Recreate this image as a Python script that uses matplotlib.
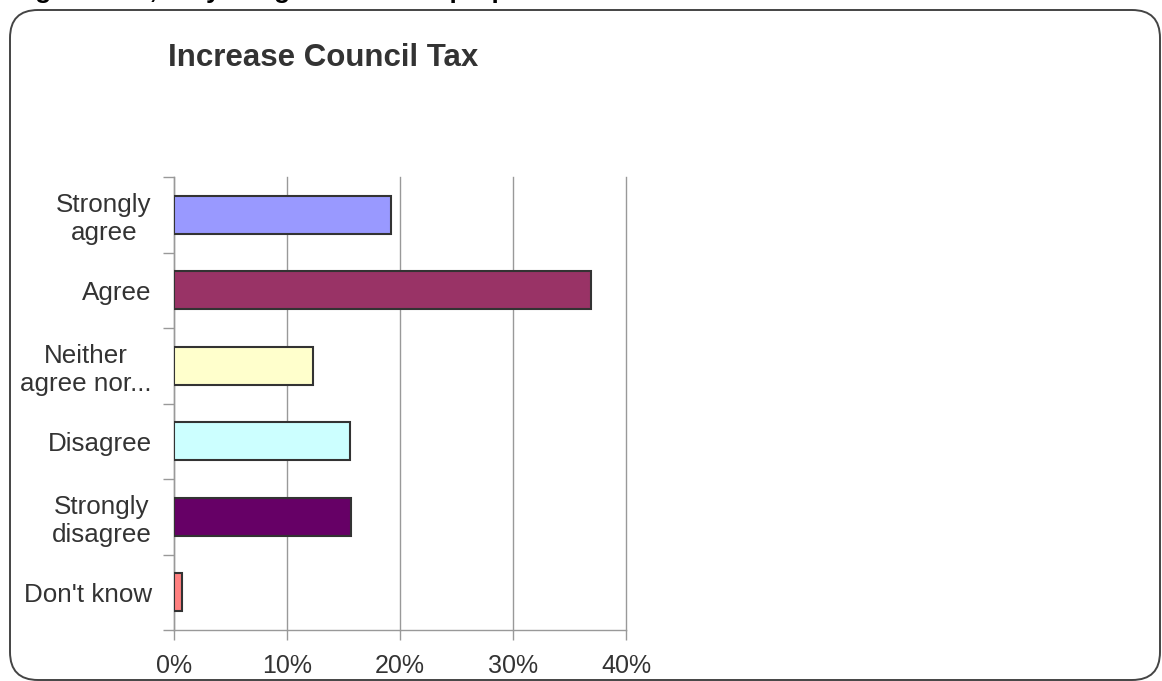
import numpy as np
import matplotlib
matplotlib.use("Agg")
import matplotlib.pyplot as plt
from matplotlib.patches import FancyBboxPatch

# Survey responses (share of respondents, %)
categories = ["Strongly\nagree", "Agree", "Neither\nagree nor...", "Disagree",
              "Strongly\ndisagree", "Don't know"]
percent = [19.2, 36.9, 12.3, 15.6, 15.7, 0.7]
bar_colors = ["#9999FF", "#993366", "#FFFFCC", "#CCFFFF", "#660066", "#FF8080"]
x_ticks = [0, 10, 20, 30, 40]
x_tick_labels = ["0%", "10%", "20%", "30%", "40%"]

plt.rcParams["font.family"] = ["Liberation Sans", "DejaVu Sans"]
text_color = "#333333"
grid_color = "#999999"

W, H = 1162, 681
fig = plt.figure(figsize=(W / 100, H / 100), dpi=100)
fig.patch.set_facecolor("white")

# Frame layer in pixel units for the rounded box
frame = fig.add_axes([0, 0, 1, 1], zorder=0)
frame.set_xlim(0, W)
frame.set_ylim(H, 0)
frame.axis("off")
box = FancyBboxPatch((10, 10), W - 12, H - 11,
                     boxstyle="round,pad=0,rounding_size=28",
                     facecolor="white", edgecolor="#444444", linewidth=1.4)
frame.add_patch(box)

# Caption sitting above the box (mostly cropped off the top)
fig.text(12 / W, 1 + 2 / H, "Figure 4.12, Do you agree with this proposal",
         fontsize=18.7, fontweight="bold", color="black",
         ha="left", va="baseline")

fig.text(168 / W, (H - 66) / H, "Increase Council Tax",
         fontsize=22.5, fontweight="bold", color=text_color,
         ha="left", va="baseline")

ax = fig.add_axes([174 / W, 51 / H, 452 / W, 453 / H], zorder=1)
ax.patch.set_alpha(0)

y = np.arange(len(categories))
ax.barh(y, percent, height=0.5, color=bar_colors, edgecolor="#333333",
        linewidth=1.5, zorder=3)

ax.set_xlim(0, 40)
ax.set_ylim(len(categories) - 0.5, -0.5)

ax.set_xticks(x_ticks)
ax.set_xticklabels(x_tick_labels)
ax.set_yticks(np.arange(len(categories) + 1) - 0.5, minor=True)
ax.set_yticks(y)
ax.set_yticklabels(categories, multialignment="center", linespacing=1.2)

ax.tick_params(axis="y", which="major", length=0, pad=16,
               labelsize=18.7, labelcolor=text_color)
ax.tick_params(axis="y", which="minor", length=8, width=1, color=grid_color,
               direction="out")
ax.tick_params(axis="x", length=7, width=1, color=grid_color, pad=10,
               labelsize=18, labelcolor=text_color, direction="out")

ax.xaxis.grid(True, color=grid_color, linewidth=1, zorder=0)
ax.set_axisbelow(True)
for gl in ax.get_xgridlines():
    gl.set_clip_on(False)

for side in ("top", "right"):
    ax.spines[side].set_visible(False)
for side in ("left", "bottom"):
    ax.spines[side].set_color(grid_color)
    ax.spines[side].set_linewidth(1)

fig.savefig("out.png", dpi=100, facecolor="white")
